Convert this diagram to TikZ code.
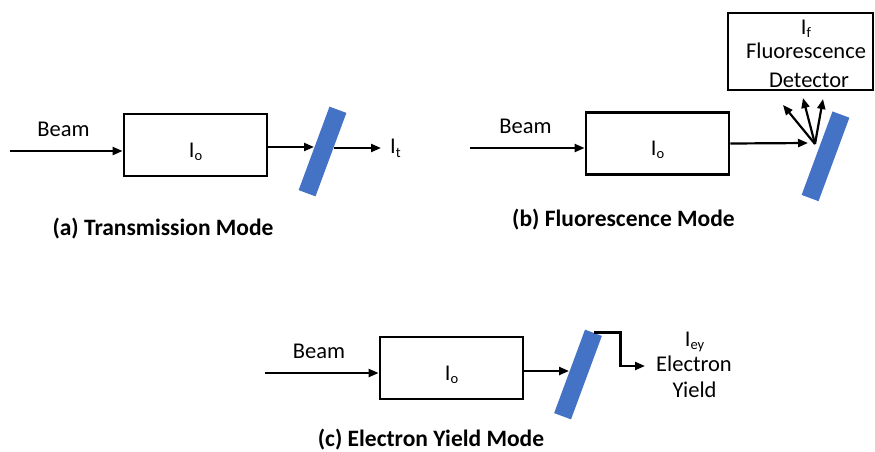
\documentclass[tikz,border=0pt]{standalone}
\usepackage{fontspec}
\setmainfont{Carlito}
\usetikzlibrary{arrows.meta}
\definecolor{cplate}{RGB}{68,114,196}
\tikzset{xafs/.style={x=1pt,y=-1pt,font=\fontsize{22.5}{27}\selectfont},
  box/.style={draw,line width=2.8pt,minimum width=143pt,minimum height=62pt,inner sep=0pt},
  plate/.style={fill=cplate,minimum width=89pt,minimum height=18pt,inner sep=0pt,rotate=69.7},
  ray/.style={line width=2.2pt,-{Triangle[length=10pt,width=8pt]}},
  txt/.style={inner sep=0pt,anchor=base},
  modename/.style={txt,font=\fontsize{23.5}{28}\selectfont\bfseries}}
\newcommand{\Isub}[1]{I\raisebox{-3.5pt}{\fontsize{14.5}{14.5}\selectfont #1}}

\begin{document}
\begin{tikzpicture}[xafs]
  \useasboundingbox (0,0) rectangle (875,451);
  % (a) transmission
  \node[box] (boxA) at (195.5,145) {};
  \node[txt] (IoA) at (195.5,157) {\Isub{o}};
  \node[plate] (plateA) at (322.5,151.5) {};
  \node[txt] (beamA) at (63.5,136) {Beam};
  \coordinate (srcA) at (10,151);
  \coordinate (hitA) at (314,147);
  \coordinate (outA) at (334,148);
  \coordinate (endA) at (381,148);
  \node[txt,anchor=base west] (ItA) at (390,153.5) {\Isub{t}};
  \draw[ray] (srcA) -- (srcA -| boxA.west);
  \draw[ray] (boxA.east |- hitA) -- (hitA);
  \draw[ray] (outA) -- (endA);
  \node[modename] (capA) at (163,235) {(a) Transmission Mode};
  % (b) fluorescence
  \node[box] (boxB) at (657.5,143.5) {};
  \node[txt] (IoB) at (657.5,155) {\Isub{o}};
  \node[plate] (plateB) at (825.5,156.3) {};
  \node[txt] (beamB) at (525.5,133) {Beam};
  \coordinate (srcB) at (470,148);
  \coordinate (hitB) at (808,143);
  \coordinate (emitB) at (815,144);
  \coordinate (fl1) at (783,105);
  \coordinate (fl2) at (803,98);
  \coordinate (fl3) at (823,99);
  \draw[ray] (srcB) -- (srcB -| boxB.west);
  \draw[ray] (boxB.east) -- (hitB);
  \foreach \f in {fl1,fl2,fl3} \draw[ray] (emitB) -- (\f);
  \node[draw,line width=2.6pt,minimum width=145pt,minimum height=77pt] (det) at (800.5,51.5) {};
  \node[txt] (detI) at (806,34) {\Isub{f}};
  \node[txt] (detF) at (806,58) {Fluorescence};
  \node[txt] (detD) at (809,87) {Detector};
  \node[modename] (capB) at (623.5,226) {(b) Fluorescence Mode};
  % (c) electron yield
  \node[box] (boxC) at (451.5,368) {};
  \node[txt] (IoC) at (451.5,380) {\Isub{o}};
  \node[plate] (plateC) at (578,374.5) {};
  \node[txt] (beamC) at (319,358) {Beam};
  \coordinate (srcC) at (265,373);
  \coordinate (hitC) at (569,371);
  \coordinate (eyC) at (645,366);
  \draw[ray] (srcC) -- (srcC -| boxC.west);
  \draw[ray] (boxC.east |- hitC) -- (hitC);
  \draw[ray] (plateC.east) -- ++(27,0) |- (eyC);
  \node[txt] (eyI) at (694.5,346) {\Isub{ey}};
  \node[txt] (eyE) at (694,371) {Electron};
  \node[txt] (eyY) at (694.5,397) {Yield};
  \node[modename] (capC) at (431,446) {(c) Electron Yield Mode};
\end{tikzpicture}
\end{document}
